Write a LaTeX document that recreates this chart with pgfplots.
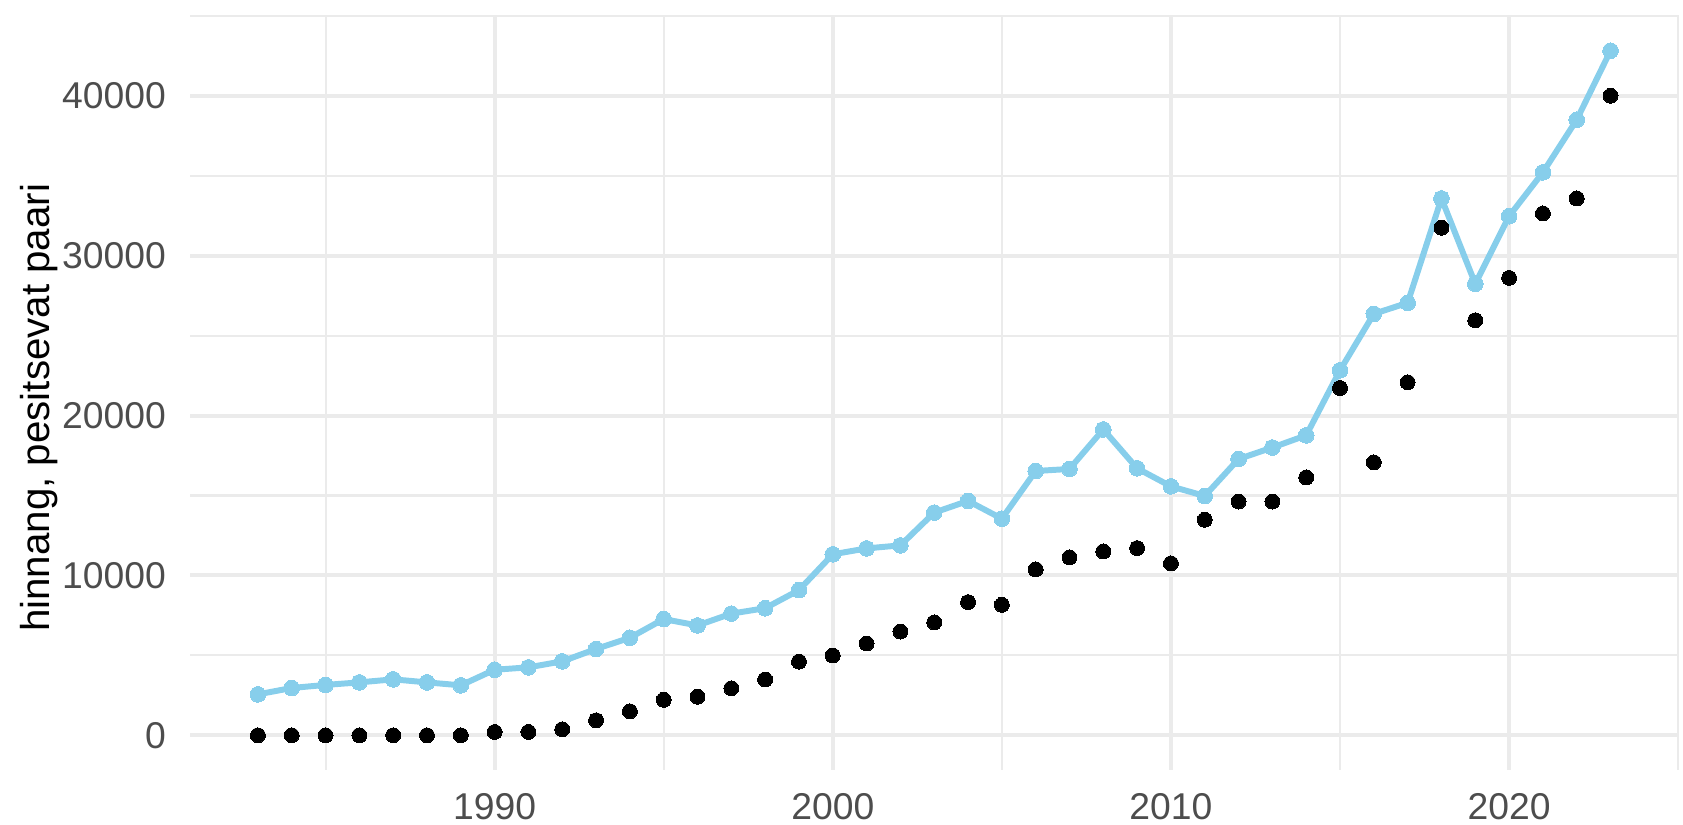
\documentclass[border=0pt]{standalone}
\usepackage{fontspec}
\setmainfont{Liberation Sans}
\usepackage{pgfplots}
\pgfplotsset{compat=1.18}
\usepackage{pgfplotstable}
\definecolor{gridc}{HTML}{EBEBEB}
\definecolor{tickc}{HTML}{4D4D4D}
\definecolor{skyb}{HTML}{87CEEB}
\pgfplotstableread{
year blue black
1983 2560 0
1984 2960 0
1985 3150 0
1986 3310 0
1987 3500 0
1988 3310 0
1989 3125 0
1990 4100 210
1991 4250 210
1992 4625 375
1993 5400 940
1994 6100 1500
1995 7270 2220
1996 6870 2410
1997 7610 2940
1998 7950 3490
1999 9080 4610
2000 11320 4990
2001 11690 5740
2002 11880 6490
2003 13930 7060
2004 14660 8330
2005 13550 8160
2006 16530 10380
2007 16660 11130
2008 19130 11500
2009 16700 11710
2010 15570 10750
2011 14970 13480
2012 17280 14620
2013 18000 14620
2014 18760 16130
2015 22830 21720
2016 26360 17070
2017 27050 22080
2018 33580 31750
2019 28240 25960
2020 32470 28610
2021 35210 32640
2022 38500 33580
2023 42820 40000
}\datatable
\begin{document}
\begin{tikzpicture}
\begin{axis}[
  at={(0,0)}, anchor=south west,
  scale only axis, width=398.8pt, height=202.3pt,
  xmin=1981, xmax=2025, ymin=-2150, ymax=45060,
  axis line style={draw=none},
  major tick length=0pt, minor tick length=0pt,
  xtick={1990,2000,2010,2020},
  minor xtick={1985,1995,2005,2015,2025},
  ytick={0,10000,20000,30000,40000},
  minor ytick={5000,15000,25000,35000,45000},
  scaled ticks=false,
  /pgf/number format/1000 sep={},
  /pgf/number format/assume math mode=true,
  grid=both,
  major grid style={draw=gridc, line width=1.07pt},
  minor grid style={draw=gridc, line width=0.55pt},
  tick label style={font=\fontsize{10}{12}\selectfont, text=tickc},
  xticklabel style={yshift=-2.9pt},
  yticklabel style={xshift=-3pt},
  clip=false,
]
\addplot[skyb, line width=1.6pt, mark=*, mark size=2.1pt, mark options={fill=skyb, draw=skyb, line width=0pt}] table[x=year, y=blue] {\datatable};
\addplot[only marks, mark=*, mark size=2pt, mark options={fill=black, draw=black, line width=0pt}] table[x=year, y=black] {\datatable};
\end{axis}
\node[rotate=90, anchor=base, font=\fontsize{10.8}{13}\selectfont, text=black, inner sep=0pt] at (-37.7pt,97pt) {hinnang, pesitsevat paari};
\pgfresetboundingbox
\path[use as bounding box] (-51pt,-14.7pt) rectangle (400.1pt,206.3pt);
\end{tikzpicture}
\end{document}
